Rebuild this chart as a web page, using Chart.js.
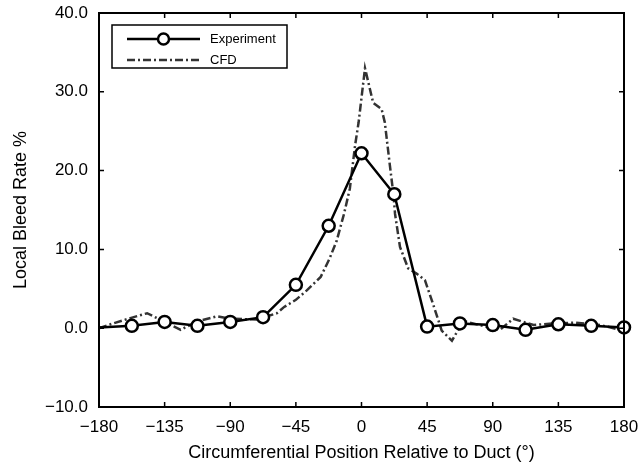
<!DOCTYPE html>
<html>
<head>
<meta charset="utf-8">
<script src="https://cdn.jsdelivr.net/npm/chart.js@4.4.1/dist/chart.umd.min.js"></script>
<style>
  html, body { margin: 0; padding: 0; background: #fff; }
  #wrap { width: 639px; height: 466px; }
</style>
</head>
<body>
<div id="wrap"><canvas id="c" width="639" height="466"></canvas></div>
<script>
// ---- data ----
const expAngles = [-180, -157.5, -135, -112.5, -90, -67.5, -45, -22.5, 0, 22.5, 45, 67.5, 90, 112.5, 135, 157.5, 180];
const expValues = [0.1, 0.3, 0.8, 0.3, 0.8, 1.4, 5.5, 13.0, 22.2, 17.0, 0.2, 0.6, 0.4, -0.2, 0.5, 0.3, 0.1];
const expMarker = [false, true, true, true, true, true, true, true, true, true, true, true, true, true, true, true, true];

const cfdAngles = [-180, -172, -160, -147, -135, -124, -112, -99, -90, -72, -58, -53, -45, -37.5, -28, -22, -17, -12, -8, -4.4, -2, 2.4, 8, 13.8, 16, 19.5, 22, 23, 26.4, 32, 38, 43.5, 49, 55, 62, 67.5, 72, 81, 95, 104, 118, 131, 147, 164, 177, 180];
const cfdValues = [0.0, 0.5, 1.2, 1.9, 0.8, -0.2, 0.9, 1.5, 1.2, 1.1, 1.9, 2.7, 3.6, 4.8, 6.5, 8.8, 11.1, 14.5, 17.7, 23.2, 26.1, 33.0, 28.6, 27.8, 26.1, 20.6, 16.8, 14.5, 10.3, 7.6, 6.9, 6.1, 3.1, -0.3, -1.6, 0.2, 0.8, 0.4, -0.2, 1.2, 0.4, 0.6, 0.7, 0.4, -0.2, 0.0];

const seriesLabels = ['Experiment', 'CFD'];
const xTitle = 'Circumferential Position Relative to Duct (\u00B0)';
const yTitle = 'Local Bleed Rate %';
const xMin = -180, xMax = 180, xStep = 45;
const yMin = -10, yMax = 40, yStep = 10;

const FONT = '"Liberation Sans", Arial, Helvetica, sans-serif';
const minus = v => (v < 0 ? '\u2212' : '') + Math.abs(v);

const framePlugin = {
  id: 'frame',
  afterDraw(chart) {
    const ctx = chart.ctx, a = chart.chartArea;
    const xs = chart.scales.x, ys = chart.scales.y;
    ctx.save();
    ctx.strokeStyle = '#000';
    ctx.lineWidth = 2;
    ctx.strokeRect(a.left, a.top, a.right - a.left, a.bottom - a.top);
    const tl = 5;
    ctx.lineWidth = 1.5;
    ctx.beginPath();
    xs.ticks.forEach(t => {
      const px = xs.getPixelForValue(t.value);
      ctx.moveTo(px, a.bottom); ctx.lineTo(px, a.bottom - tl);
      ctx.moveTo(px, a.top); ctx.lineTo(px, a.top + tl);
    });
    ys.ticks.forEach(t => {
      const py = ys.getPixelForValue(t.value);
      ctx.moveTo(a.left, py); ctx.lineTo(a.left + tl, py);
      ctx.moveTo(a.right, py); ctx.lineTo(a.right - tl, py);
    });
    ctx.stroke();

    // legend box
    const bx = 112, by = 25, bw = 175, bh = 43;
    ctx.fillStyle = '#fff';
    ctx.fillRect(bx, by, bw, bh);
    ctx.lineWidth = 1.5;
    ctx.strokeRect(bx, by, bw, bh);
    const ds = chart.data.datasets;
    const rows = [39, 60];
    ds.forEach((d, i) => {
      const y = rows[i];
      ctx.save();
      ctx.strokeStyle = d.borderColor;
      ctx.lineWidth = d.borderWidth;
      ctx.setLineDash(d.borderDash || []);
      ctx.beginPath();
      ctx.moveTo(127, y); ctx.lineTo(200, y);
      ctx.stroke();
      ctx.setLineDash([]);
      if (i === 0) {
        ctx.beginPath();
        ctx.arc(163.5, y, 5.5, 0, Math.PI * 2);
        ctx.fillStyle = '#fff';
        ctx.fill();
        ctx.lineWidth = 2.5;
        ctx.strokeStyle = '#000';
        ctx.stroke();
      }
      ctx.restore();
      ctx.fillStyle = '#000';
      ctx.font = '13px ' + FONT;
      ctx.textBaseline = 'middle';
      ctx.textAlign = 'left';
      ctx.fillText(d.label, 210, y);
    });
    ctx.restore();
  }
};

new Chart(document.getElementById('c'), {
  type: 'line',
  data: {
    datasets: [
      {
        label: seriesLabels[0],
        data: expAngles.map((x, i) => ({ x: x, y: expValues[i] })),
        borderColor: '#000',
        borderWidth: 2.5,
        pointRadius: expMarker.map(m => m ? 6 : 0),
        pointBorderWidth: 2.5,
        pointBorderColor: '#000',
        pointBackgroundColor: '#fff',
        pointStyle: 'circle',
        tension: 0,
        clip: false
      },
      {
        label: seriesLabels[1],
        data: cfdAngles.map((x, i) => ({ x: x, y: cfdValues[i] })),
        borderColor: '#333',
        borderWidth: 2.5,
        borderDash: [8, 3, 2, 3],
        pointRadius: 0,
        tension: 0,
        clip: false
      }
    ]
  },
  options: {
    responsive: false,
    animation: false,
    devicePixelRatio: 1,
    layout: { padding: { left: 0, right: 15, top: 13, bottom: 0 } },
    plugins: { legend: { display: false }, tooltip: { enabled: false } },
    scales: {
      x: {
        type: 'linear',
        min: xMin, max: xMax,
        grid: { display: false, drawTicks: false },
        border: { display: false },
        ticks: { stepSize: xStep, color: '#000', font: { family: FONT, size: 17 }, padding: 10, callback: v => minus(v), maxRotation: 0 },
        title: { display: true, text: xTitle, color: '#000', font: { family: FONT, size: 18 }, padding: { top: 2, bottom: 2 } },
        afterFit(s) { s.height = 59; s.paddingLeft = 0; s.paddingRight = 0; }
      },
      y: {
        min: yMin, max: yMax,
        grid: { display: false, drawTicks: false },
        border: { display: false },
        ticks: { stepSize: yStep, color: '#000', font: { family: FONT, size: 17 }, padding: 11, callback: v => (v < 0 ? '\u2212' : '') + Math.abs(v).toFixed(1) },
        title: { display: true, text: yTitle, color: '#000', font: { family: FONT, size: 18 }, padding: { top: 10, bottom: 0 } },
        afterFit(s) { s.width = 99; s.paddingTop = 0; s.paddingBottom = 0; }
      }
    }
  },
  plugins: [framePlugin]
});
</script>
</body>
</html>
